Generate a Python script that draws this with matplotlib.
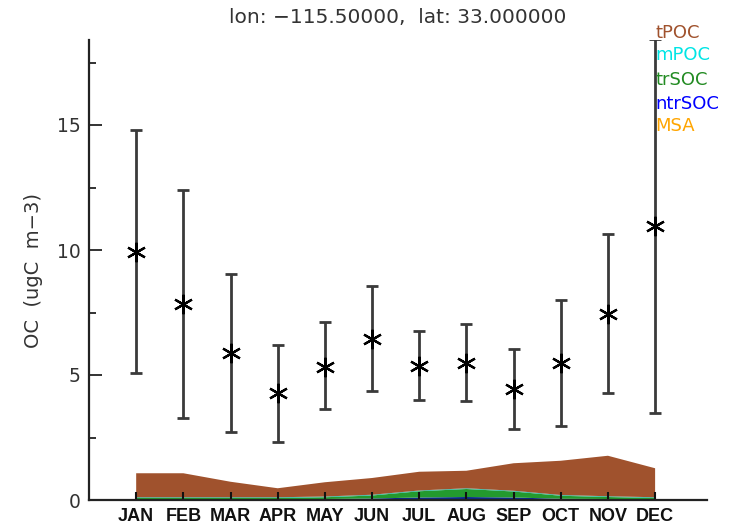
import matplotlib
matplotlib.use("Agg")
import matplotlib.pyplot as plt
from matplotlib.ticker import MultipleLocator

# monthly OC statistics
months = ['JAN', 'FEB', 'MAR', 'APR', 'MAY', 'JUN',
          'JUL', 'AUG', 'SEP', 'OCT', 'NOV', 'DEC']
oc_mean = [9.93, 7.83, 5.87, 4.27, 5.33, 6.44, 5.37, 5.49, 4.45, 5.47, 7.44, 10.96]
oc_high = [14.79, 12.41, 9.03, 6.19, 7.11, 8.55, 6.77, 7.03, 6.05, 8.00, 10.65, 18.43]
oc_low = [5.07, 3.27, 2.71, 2.33, 3.63, 4.37, 4.00, 3.97, 2.83, 2.96, 4.27, 3.49]

# model components (stacked, bottom to top)
msa = [0.0, 0.0, 0.0, 0.0, 0.0, 0.0, 0.0, 0.0, 0.0, 0.0, 0.0, 0.0]
ntrsoc = [0.03, 0.03, 0.03, 0.03, 0.04, 0.06, 0.10, 0.12, 0.10, 0.05, 0.04, 0.03]
trsoc = [0.05, 0.05, 0.05, 0.05, 0.07, 0.12, 0.25, 0.32, 0.24, 0.12, 0.08, 0.05]
mpoc = [0.03, 0.03, 0.03, 0.03, 0.03, 0.03, 0.03, 0.03, 0.03, 0.03, 0.03, 0.03]
tpoc = [0.96, 0.96, 0.62, 0.36, 0.57, 0.67, 0.75, 0.70, 1.10, 1.37, 1.62, 1.16]

names = ['tPOC', 'mPOC', 'trSOC', 'ntrSOC', 'MSA']
colors = {'tPOC': '#A0522D', 'mPOC': '#00E5E5', 'trSOC': '#228B22',
          'ntrSOC': '#0000FF', 'MSA': '#FFA500'}
fill_colors = {'tPOC': '#A0522D', 'mPOC': '#22B5A0', 'trSOC': '#239A2E',
               'ntrSOC': '#0A2A8A', 'MSA': '#FFA500'}

fig = plt.figure(figsize=(7.38, 5.29), dpi=100)
ax = fig.add_axes([89 / 738, 1 - 500 / 529, 618 / 738, 460 / 529])

x = list(range(1, 13))
ax.stackplot(x, msa, ntrsoc, trsoc, mpoc, tpoc,
             colors=[fill_colors['MSA'], fill_colors['ntrSOC'], fill_colors['trSOC'],
                     fill_colors['mPOC'], fill_colors['tPOC']],
             linewidth=0, zorder=1)

yerr = [[m - l for m, l in zip(oc_mean, oc_low)],
        [h - m for m, h in zip(oc_mean, oc_high)]]
ax.errorbar(x, oc_mean, yerr=yerr, fmt='none', ecolor='#3a3a3a',
            elinewidth=2.0, capsize=4, capthick=2.0, zorder=3)
ax.plot(x, oc_mean, linestyle='none', marker=(6, 2, 0), markersize=14,
        markeredgewidth=1.6, color='k', zorder=4)

ax.set_xlim(0, 13.1)
ax.set_ylim(0, 18.4)
ax.set_xticks(x)
ax.set_xticklabels(months)
ax.set_yticks([0, 5, 10, 15])
ax.yaxis.set_minor_locator(MultipleLocator(2.5))

for s in ['top', 'right']:
    ax.spines[s].set_visible(False)
for s in ['left', 'bottom']:
    ax.spines[s].set_linewidth(1.6)
    ax.spines[s].set_color('#222222')

ax.tick_params(axis='y', which='major', direction='in', length=9, width=1.3,
               labelsize=13.5, colors='#222222', labelcolor='#333333', pad=6)
ax.tick_params(axis='y', which='minor', direction='in', length=5, width=1.3,
               colors='#222222')
ax.tick_params(axis='x', which='major', direction='in', length=6, width=1.5,
               labelsize=11, colors='#111111', pad=6)
for lab in ax.get_xticklabels():
    lab.set_fontfamily('Liberation Sans')
    lab.set_fontsize(13)
    lab.set_fontweight('bold')
    lab.set_color('#111111')

ax.set_ylabel('OC  (ugC  m\u22123)', fontsize=14, color='#333333', labelpad=10)
ax.set_title('lon: \u2212115.50000,  lat: 33.000000', fontsize=14.5,
             color='#333333', pad=12)

# legend as coloured text at the right
ty = [33, 55, 80, 104, 126]
for name, yy in zip(names, ty):
    fig.text(655 / 738, 1 - yy / 529, name, color=colors[name],
             fontsize=13, va='center', ha='left')

fig.savefig('out.png', dpi=100)
